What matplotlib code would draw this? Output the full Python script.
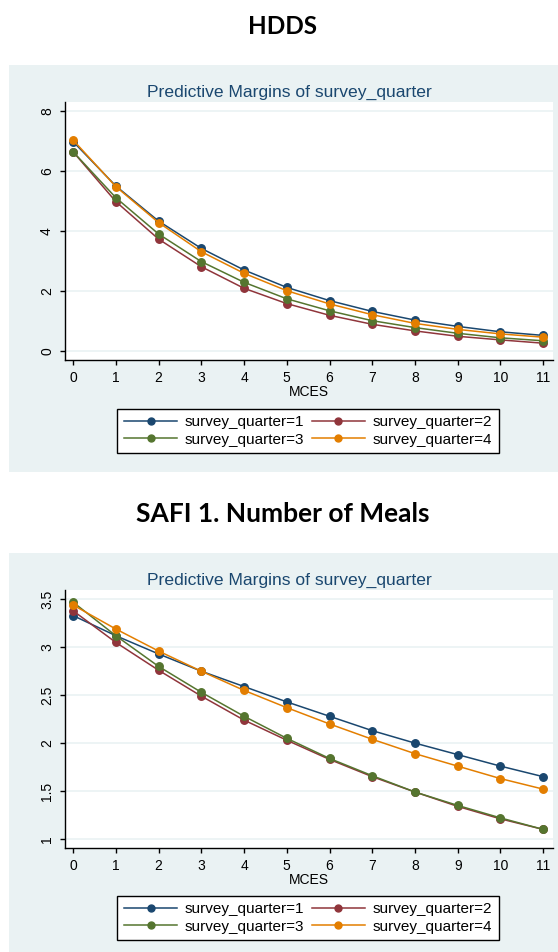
import matplotlib
matplotlib.use("Agg")
import matplotlib.pyplot as plt
from matplotlib.patches import Rectangle
from matplotlib.lines import Line2D

W, H = 558, 952
DPI = 100

mces = list(range(12))
series_labels = ["survey_quarter=1", "survey_quarter=2", "survey_quarter=3", "survey_quarter=4"]
colors = ["#1a476f", "#90353b", "#55752f", "#e37e00"]

hdds_q1 = [6.98, 5.50, 4.33, 3.42, 2.70, 2.12, 1.68, 1.32, 1.03, 0.82, 0.64, 0.52]
hdds_q2 = [6.64, 4.98, 3.73, 2.81, 2.09, 1.58, 1.19, 0.89, 0.67, 0.49, 0.37, 0.26]
hdds_q3 = [6.64, 5.11, 3.90, 2.98, 2.29, 1.74, 1.34, 1.01, 0.78, 0.59, 0.44, 0.34]
hdds_q4 = [7.03, 5.48, 4.28, 3.31, 2.59, 2.01, 1.57, 1.21, 0.92, 0.72, 0.57, 0.46]

meals_q1 = [3.33, 3.12, 2.93, 2.75, 2.59, 2.43, 2.28, 2.13, 2.00, 1.88, 1.76, 1.65]
meals_q2 = [3.38, 3.05, 2.76, 2.49, 2.24, 2.03, 1.83, 1.65, 1.49, 1.34, 1.21, 1.10]
meals_q3 = [3.47, 3.12, 2.80, 2.53, 2.28, 2.05, 1.84, 1.66, 1.49, 1.35, 1.22, 1.10]
meals_q4 = [3.44, 3.19, 2.96, 2.75, 2.55, 2.37, 2.20, 2.04, 1.89, 1.76, 1.63, 1.52]

hdds_yticks = [0, 2, 4, 6, 8]
hdds_ytick_labels = ["0", "2", "4", "6", "8"]
meals_yticks = [1, 1.5, 2, 2.5, 3, 3.5]
meals_ytick_labels = ["1", "1.5", "2", "2.5", "3", "3.5"]

panel_bg = "#eaf2f3"
sans = ["Liberation Sans", "DejaVu Sans"]
plt.rcParams["font.family"] = sans

fig = plt.figure(figsize=(W / DPI, H / DPI), dpi=DPI)
fig.patch.set_facecolor("white")


def fx(x):
    return x / W


def fy(y):
    return 1 - y / H


def rect(l, t, r, b):
    return [l / W, 1 - b / H, (r - l) / W, (b - t) / H]


def make_panel(top, bottom, heading, heading_y, ax_top, ax_bottom, ylim, yticks, yticklabels,
               data, legend_top, legend_bottom, heading_size):
    fig.patches.append(Rectangle((fx(9), fy(bottom)), fx(558 - 9), (bottom - top) / H,
                                 transform=fig.transFigure, facecolor=panel_bg,
                                 edgecolor="none", zorder=-5))
    fig.text(fx(283), fy(heading_y), heading, ha="center", va="center",
             fontsize=heading_size, fontweight="bold", family=["Lato", "DejaVu Sans"],
             color="black")
    fig.text(fx(289), fy(top + 27), "Predictive Margins of survey_quarter", ha="center",
             va="center", fontsize=12.6, color="#1a476f")
    ax = fig.add_axes(rect(65, ax_top, 553, ax_bottom))
    ax.set_zorder(2)
    ax.set_facecolor("white")
    for vals, c in zip(data, colors):
        ax.plot(mces, vals, color=c, lw=1.1, marker="o", markersize=5.4, zorder=3,
                clip_on=False)
    ax.set_xlim(-0.19, 11.23)
    ax.set_ylim(*ylim)
    ax.set_xticks(mces)
    ax.set_xticklabels([str(m) for m in mces])
    ax.set_yticks(yticks)
    ax.set_yticklabels(yticklabels, rotation=90, va="center")
    ax.grid(axis="y", color=panel_bg, lw=1.2, zorder=0)
    ax.set_axisbelow(True)
    for s in ["top", "right"]:
        ax.spines[s].set_visible(False)
    for s in ["left", "bottom"]:
        ax.spines[s].set_color("black")
        ax.spines[s].set_linewidth(1)
    ax.tick_params(axis="both", direction="out", length=3.6, width=1, labelsize=10,
                   colors="black")
    ax.tick_params(axis="x", pad=4.5)
    ax.tick_params(axis="y", pad=4.3)
    ax.set_xlabel("MCES", fontsize=10, labelpad=0)
    handles = [Line2D([], [], color=c, lw=1.1, marker="o", markersize=5) for c in colors]
    order = [0, 2, 1, 3]
    leg = fig.legend([handles[i] for i in order], [series_labels[i] for i in order],
                     ncol=2, loc="center",
                     bbox_to_anchor=rect(117, legend_top + 2, 499, legend_bottom + 2),
                     mode="expand", fontsize=11, frameon=True, fancybox=False,
                     edgecolor="black", facecolor="white", framealpha=1,
                     handlelength=3.5, handletextpad=0.5, borderpad=0.45,
                     labelspacing=0.2, columnspacing=1.5, borderaxespad=0)
    leg.get_frame().set_linewidth(1)
    leg.set_zorder(3)
    return ax


make_panel(65, 472, "HDDS", 27, 102, 360, (-0.3, 8.3), hdds_yticks, hdds_ytick_labels,
           [hdds_q1, hdds_q2, hdds_q3, hdds_q4], 406, 452, 17.5)
make_panel(553, 952, "SAFI 1. Number of Meals", 514, 590, 848, (0.906, 3.597), meals_yticks,
           meals_ytick_labels, [meals_q1, meals_q2, meals_q3, meals_q4], 893, 939, 19)

fig.savefig("out.png", dpi=DPI, facecolor=fig.get_facecolor())
